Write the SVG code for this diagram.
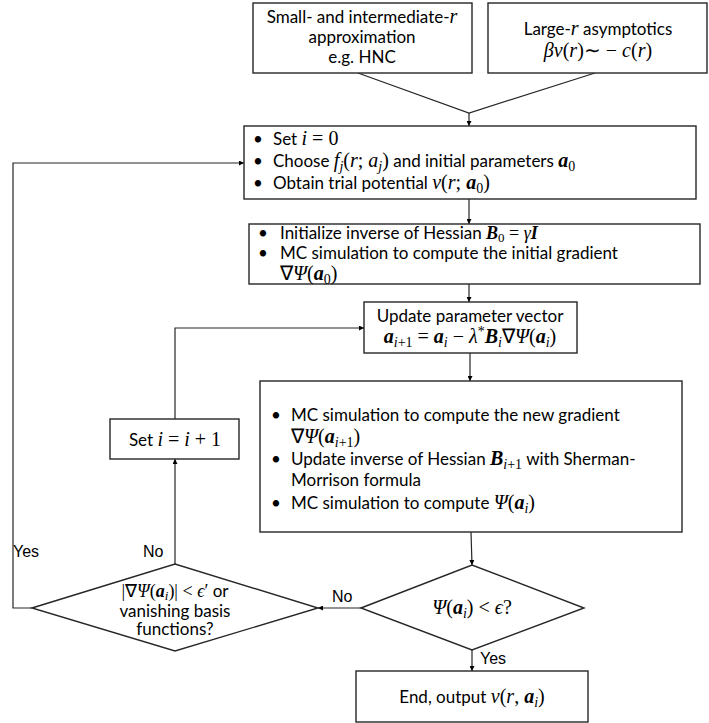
<svg xmlns="http://www.w3.org/2000/svg" width="709" height="723" viewBox="0 0 709 723">
<style>
.box{fill:#fff;stroke:#262626;stroke-width:1.4}
.ln{fill:none;stroke:#262626;stroke-width:1.2}
.t{font-family:Lato,"Liberation Sans",sans-serif;font-size:17px;fill:#000}
.c{text-anchor:middle}
.m{font-family:"Liberation Serif",serif;font-style:italic;font-size:20px}
.u{font-family:"Liberation Serif",serif;font-style:normal;font-size:20px}
.bv{font-family:"Liberation Serif",serif;font-style:italic;font-weight:bold;font-size:20px}
.s{font-family:"Liberation Serif",serif;font-size:14px}
.si{font-family:"Liberation Serif",serif;font-style:italic;font-size:14px}
.sm .m,.sm .u,.sm .bv{font-size:18px}
.sm .s,.sm .si{font-size:13px}
.lab{font-family:"Liberation Sans",Arial,sans-serif;font-size:16px;fill:#000}
</style>
<defs>
<marker id="ah" viewBox="0 0 10 10" refX="10" refY="5" markerWidth="5" markerHeight="5" orient="auto" markerUnits="userSpaceOnUse">
<path d="M0,0 L10,5 L0,10 z" fill="#000"/>
</marker>
</defs>

<g id="connectors">
<path class="ln" d="M358,73 L469,113 L595,73"/>
<path class="ln" d="M469,113 L469,126" marker-end="url(#ah)"/>
<path class="ln" d="M469,199 L469,224" marker-end="url(#ah)"/>
<path class="ln" d="M469,284 L469,302" marker-end="url(#ah)"/>
<path class="ln" d="M470,353 L470,381" marker-end="url(#ah)"/>
<path class="ln" d="M471,532 L472,565" marker-end="url(#ah)"/>
<path class="ln" d="M472,650 L472,671" marker-end="url(#ah)"/>
<path class="ln" d="M361,608 L318,608" marker-end="url(#ah)"/>
<path class="ln" d="M175,564 L175,459" marker-end="url(#ah)"/>
<path class="ln" d="M175,419 L175,328 L364,328" marker-end="url(#ah)"/>
<path class="ln" d="M32,608 L13,608 L13,163 L244,163" marker-end="url(#ah)"/>
<text class="lab" x="13" y="557">Yes</text>
<text class="lab" x="143" y="557">No</text>
<text class="lab" x="332" y="602">No</text>
<text class="lab" x="480" y="664">Yes</text>
</g>

<g id="n_small">
<rect class="box" x="253" y="3" width="219" height="70"/>
<text class="t c" x="362" y="23">Small- and intermediate-<tspan class="m">r</tspan></text>
<text class="t c" x="362" y="43">approximation</text>
<text class="t c" x="362" y="63">e.g. HNC</text>
</g>

<g id="n_large">
<rect class="box" x="488" y="3" width="219" height="70"/>
<text class="t c" x="598" y="35">Large-<tspan class="m">r</tspan> asymptotics</text>
<text class="t c" x="598" y="57"><tspan class="m">βv</tspan><tspan class="u">(</tspan><tspan class="m">r</tspan><tspan class="u">)∼ − </tspan><tspan class="m">c</tspan><tspan class="u">(</tspan><tspan class="m">r</tspan><tspan class="u">)</tspan></text>
</g>

<g id="n_init">
<rect class="box" x="244" y="126" width="452" height="73"/>
<text class="t" x="253" y="145">•</text>
<text class="t" x="253" y="167">•</text>
<text class="t" x="253" y="189">•</text>
<text class="t" x="273" y="145">Set <tspan class="m">i</tspan><tspan class="u"> = 0</tspan></text>
<text class="t" x="273" y="167">Choose <tspan class="m">f</tspan><tspan class="si" dy="4">j</tspan><tspan class="u" dy="-4">(</tspan><tspan class="m">r</tspan><tspan class="u">; </tspan><tspan class="m">a</tspan><tspan class="si" dy="4">j</tspan><tspan class="u" dy="-4">)</tspan> and initial parameters <tspan class="bv">a</tspan><tspan class="s" dy="4">0</tspan></text>
<text class="t" x="273" y="189">Obtain trial potential <tspan class="m">v</tspan><tspan class="u">(</tspan><tspan class="m">r</tspan><tspan class="u">; </tspan><tspan class="bv">a</tspan><tspan class="s" dy="4">0</tspan><tspan class="u" dy="-4">)</tspan></text>
</g>

<g id="n_hess">
<rect class="box" x="249" y="224" width="451" height="60"/>
<text class="t" x="258" y="239">•</text>
<text class="t" x="258" y="259">•</text>
<text class="t sm" x="280" y="239">Initialize inverse of Hessian <tspan class="bv">B</tspan><tspan class="s" dy="3">0</tspan><tspan class="u" dy="-3"> = </tspan><tspan class="m">γ</tspan><tspan class="bv">I</tspan></text>
<text class="t" x="280" y="259">MC simulation to compute the initial gradient</text>
<text class="t" x="280" y="280"><tspan class="u">∇</tspan><tspan class="m">Ψ</tspan><tspan class="u">(</tspan><tspan class="bv">a</tspan><tspan class="s" dy="4">0</tspan><tspan class="u" dy="-4">)</tspan></text>
</g>

<g id="n_update">
<rect class="box" x="364" y="302" width="213" height="51"/>
<text class="t c" x="470" y="322">Update parameter vector</text>
<text class="t c" x="470" y="343"><tspan class="bv">a</tspan><tspan class="si" dy="4">i</tspan><tspan class="s">+1</tspan><tspan class="u" dy="-4"> = </tspan><tspan class="bv">a</tspan><tspan class="si" dy="4">i</tspan><tspan class="u" dy="-4"> − </tspan><tspan class="m">λ</tspan><tspan class="s" dy="-7">*</tspan><tspan class="bv" dy="7">B</tspan><tspan class="si" dy="4">i</tspan><tspan class="u" dy="-4">∇</tspan><tspan class="m">Ψ</tspan><tspan class="u">(</tspan><tspan class="bv">a</tspan><tspan class="si" dy="4">i</tspan><tspan class="u" dy="-4">)</tspan></text>
</g>

<g id="n_mc">
<rect class="box" x="260" y="381" width="422" height="151"/>
<text class="t" x="271" y="421">•</text>
<text class="t" x="271" y="465">•</text>
<text class="t" x="271" y="509">•</text>
<text class="t" x="291" y="421">MC simulation to compute the new gradient</text>
<text class="t" x="291" y="443"><tspan class="u">∇</tspan><tspan class="m">Ψ</tspan><tspan class="u">(</tspan><tspan class="bv">a</tspan><tspan class="si" dy="4">i</tspan><tspan class="s">+1</tspan><tspan class="u" dy="-4">)</tspan></text>
<text class="t" x="291" y="465">Update inverse of Hessian <tspan class="bv">B</tspan><tspan class="si" dy="4">i</tspan><tspan class="s">+1</tspan><tspan dy="-4"> with Sherman-</tspan></text>
<text class="t" x="291" y="486">Morrison formula</text>
<text class="t" x="291" y="509">MC simulation to compute <tspan class="m">Ψ</tspan><tspan class="u">(</tspan><tspan class="bv">a</tspan><tspan class="si" dy="4">i</tspan><tspan class="u" dy="-4">)</tspan></text>
</g>

<g id="n_inc">
<rect class="box" x="110" y="419" width="129" height="40"/>
<text class="t c" x="175" y="446">Set <tspan class="m">i</tspan><tspan class="u"> = </tspan><tspan class="m">i</tspan><tspan class="u"> + 1</tspan></text>
</g>

<g id="n_grad">
<polygon class="box" points="32,608 175,564 318,608 175,651"/>
<text class="t c sm" x="175" y="597"><tspan class="u">|∇</tspan><tspan class="m">Ψ</tspan><tspan class="u">(</tspan><tspan class="bv">a</tspan><tspan class="si" dy="3">i</tspan><tspan class="u" dy="-3">)| &lt; </tspan><tspan class="m">ϵ</tspan><tspan class="u">′</tspan> or</text>
<text class="t c" x="175" y="617">vanishing basis</text>
<text class="t c" x="175" y="635">functions?</text>
</g>

<g id="n_conv">
<polygon class="box" points="361,608 472,565 584,608 472,650"/>
<text class="t c" x="472" y="614"><tspan class="m">Ψ</tspan><tspan class="u">(</tspan><tspan class="bv">a</tspan><tspan class="si" dy="4">i</tspan><tspan class="u" dy="-4">) &lt; </tspan><tspan class="m">ϵ</tspan><tspan class="u">?</tspan></text>
</g>

<g id="n_end">
<rect class="box" x="356" y="671" width="232" height="51"/>
<text class="t c" x="472" y="703">End, output <tspan class="m">v</tspan><tspan class="u">(</tspan><tspan class="m">r</tspan><tspan class="u">, </tspan><tspan class="bv">a</tspan><tspan class="si" dy="4">i</tspan><tspan class="u" dy="-4">)</tspan></text>
</g>
</svg>
